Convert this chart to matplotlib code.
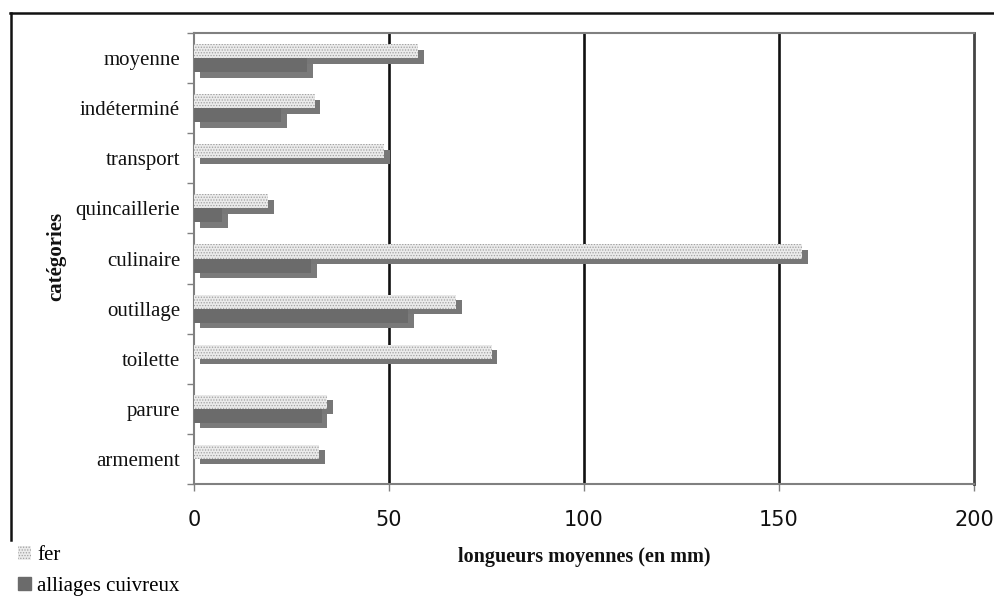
import matplotlib.pyplot as plt
import matplotlib.patches as mpatches
from matplotlib.lines import Line2D
import numpy as np

plt.rcParams['hatch.linewidth'] = 0.6

categories = ['armement', 'parure', 'toilette', 'outillage', 'culinaire',
              'quincaillerie', 'transport', 'indéterminé', 'moyenne']
fer = [32.1, 34.2, 76.3, 67.3, 155.9, 18.9, 48.7, 30.9, 57.4]
alliages = [0, 32.7, 0, 54.8, 30.1, 7.1, 0, 22.4, 29.1]
xticks = [0, 50, 100, 150, 200]

serif = 'Liberation Serif'
h = 0.28
dx, dy = 1.5, 0.11  # 3d depth offset

fig = plt.figure(figsize=(9.95, 5.96), dpi=100)
ax = fig.add_axes([194 / 995, 1 - 484 / 596, 780 / 995, 451 / 596])

y = np.arange(len(categories))

# fer: shadow then face
ax.barh(y + h / 2 - dy, fer, height=h, left=dx, color='#777777', zorder=3)
ax.barh(y + h / 2, fer, height=h, facecolor='#ebebeb', edgecolor='#a0a0a0',
        hatch='......', linewidth=0, zorder=4)
# alliages cuivreux: shadow then face
ax.barh(y - h / 2 - dy, alliages, height=h, left=dx, color='#7a7a7a', zorder=5)
ax.barh(y - h / 2, alliages, height=h, color='#6b6b6b', zorder=6)

ax.set_xlim(0, 200)
ax.set_ylim(-0.5, len(categories) - 0.5)

for g in xticks[1:4]:
    ax.axvline(g, color='#111111', lw=1.9, zorder=2)

for s in ['left', 'bottom', 'top']:
    ax.spines[s].set_color('#808080')
    ax.spines[s].set_linewidth(1.5)
ax.spines['right'].set_color('#444444')
ax.spines['right'].set_linewidth(2.0)

ax.set_xticks(xticks)
ax.set_xticklabels([str(t) for t in xticks], fontsize=15, color='#111111')
ax.tick_params(axis='x', length=5, width=1, color='#808080', pad=14)

ax.set_yticks(np.arange(-0.5, len(categories), 1))
ax.set_yticklabels([])
ax.set_yticks(y, minor=True)
ax.set_yticklabels(categories, minor=True, fontsize=15, family=serif, color='#111111')
ax.tick_params(axis='y', which='major', length=5, width=1, color='#808080')
ax.tick_params(axis='y', which='minor', length=0, pad=10)

fig.text(584 / 995, 1 - 557 / 596, 'longueurs moyennes (en mm)', family=serif,
         fontweight='bold', fontsize=14.5, ha='center', va='center', color='#111111')
fig.text(56 / 995, 1 - 256 / 596, 'catégories', family=serif, fontweight='bold',
         fontsize=15, rotation=90, ha='center', va='center', color='#111111')

# outer frame (cropped screenshot)
fig.add_artist(Line2D([10 / 995, 1], [1 - 13 / 596] * 2, color='#111111', lw=1.8))
fig.add_artist(Line2D([11 / 995] * 2, [1 - 13 / 596, 1 - 540 / 596], color='#111111', lw=1.8))

handles = [mpatches.Patch(facecolor='#ebebeb', edgecolor='#a0a0a0', hatch='......', lw=0),
           mpatches.Patch(color='#6b6b6b')]
fig.legend(handles, ['fer', 'alliages cuivreux'], loc='lower left',
           bbox_to_anchor=(-0.001, -0.031), frameon=False, prop={'family': serif, 'size': 15},
           handlelength=0.62, handleheight=0.62, handletextpad=0.3, labelspacing=0.55)

fig.savefig('out.png', dpi=100)
